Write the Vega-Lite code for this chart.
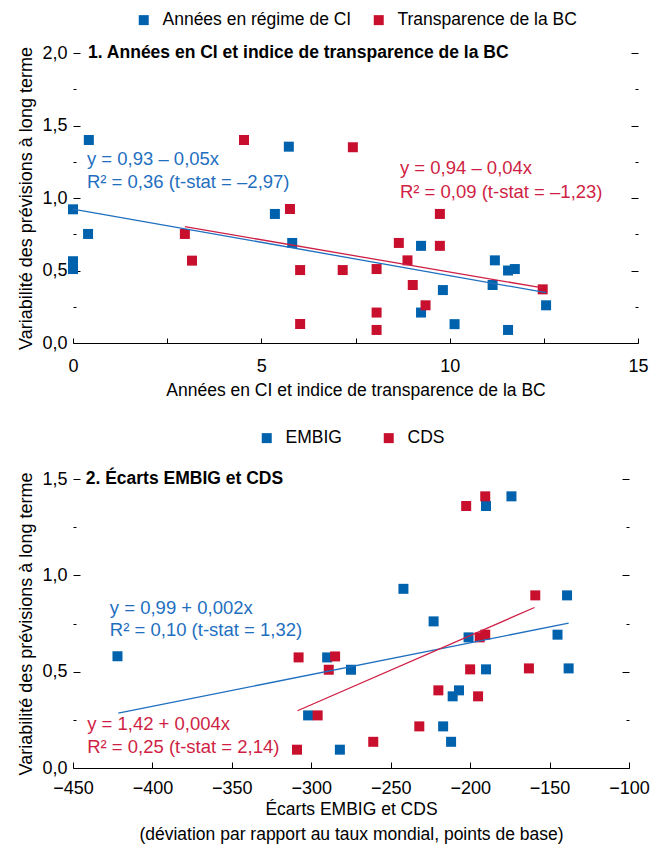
{
  "$schema": "https://vega.github.io/schema/vega-lite/v6.json",
  "padding": {"left": 17, "top": 11, "right": 8, "bottom": 1},
  "background": "white",
  "config": {
    "font": "Liberation Sans",
    "view": {"stroke": null},
    "axis": {"grid": false, "labelColor": "black", "titleColor": "black", "tickColor": "black", "domainColor": "black", "labelFontSize": 18, "titleFontSize": 17.5, "titleFontWeight": "normal", "labelFont": "Liberation Sans", "titleFont": "Liberation Sans"},
    "legend": {"layout": {"top": {"anchor": "middle"}}, "labelFontSize": 17.5, "labelLimit": 0, "labelColor": "black", "symbolType": "square", "symbolSize": 100, "symbolStrokeWidth": 0, "orient": "top", "direction": "horizontal", "title": null, "labelOffset": 10}
  },
  "datasets": {
    "p1": [
      {"x": 0, "y": 0.922, "serie": "Années en régime de CI"},
      {"x": 0, "y": 0.564, "serie": "Années en régime de CI"},
      {"x": 0, "y": 0.51, "serie": "Années en régime de CI"},
      {"x": 0.42, "y": 1.40, "serie": "Années en régime de CI"},
      {"x": 0.4, "y": 0.752, "serie": "Années en régime de CI"},
      {"x": 5.73, "y": 1.354, "serie": "Années en régime de CI"},
      {"x": 5.36, "y": 0.89, "serie": "Années en régime de CI"},
      {"x": 5.82, "y": 0.69, "serie": "Années en régime de CI"},
      {"x": 9.24, "y": 0.67, "serie": "Années en régime de CI"},
      {"x": 11.2, "y": 0.57, "serie": "Années en régime de CI"},
      {"x": 11.55, "y": 0.50, "serie": "Années en régime de CI"},
      {"x": 11.73, "y": 0.51, "serie": "Années en régime de CI"},
      {"x": 11.14, "y": 0.40, "serie": "Années en régime de CI"},
      {"x": 9.82, "y": 0.365, "serie": "Années en régime de CI"},
      {"x": 9.24, "y": 0.21, "serie": "Années en régime de CI"},
      {"x": 10.13, "y": 0.13, "serie": "Années en régime de CI"},
      {"x": 11.55, "y": 0.09, "serie": "Années en régime de CI"},
      {"x": 12.56, "y": 0.26, "serie": "Années en régime de CI"},
      {"x": 4.54, "y": 1.40, "serie": "Transparence de la BC"},
      {"x": 7.43, "y": 1.35, "serie": "Transparence de la BC"},
      {"x": 5.76, "y": 0.924, "serie": "Transparence de la BC"},
      {"x": 2.97, "y": 0.752, "serie": "Transparence de la BC"},
      {"x": 3.16, "y": 0.568, "serie": "Transparence de la BC"},
      {"x": 6.03, "y": 0.503, "serie": "Transparence de la BC"},
      {"x": 6.03, "y": 0.131, "serie": "Transparence de la BC"},
      {"x": 7.16, "y": 0.503, "serie": "Transparence de la BC"},
      {"x": 8.06, "y": 0.51, "serie": "Transparence de la BC"},
      {"x": 8.06, "y": 0.21, "serie": "Transparence de la BC"},
      {"x": 8.06, "y": 0.09, "serie": "Transparence de la BC"},
      {"x": 8.65, "y": 0.69, "serie": "Transparence de la BC"},
      {"x": 8.88, "y": 0.57, "serie": "Transparence de la BC"},
      {"x": 9.02, "y": 0.40, "serie": "Transparence de la BC"},
      {"x": 9.36, "y": 0.26, "serie": "Transparence de la BC"},
      {"x": 9.74, "y": 0.89, "serie": "Transparence de la BC"},
      {"x": 9.74, "y": 0.67, "serie": "Transparence de la BC"},
      {"x": 12.47, "y": 0.37, "serie": "Transparence de la BC"}
    ],
    "l1": [
      {"x": 0, "y": 0.924, "serie": "Années en régime de CI"},
      {"x": 12.56, "y": 0.347, "serie": "Années en régime de CI"},
      {"x": 2.97, "y": 0.802, "serie": "Transparence de la BC"},
      {"x": 12.47, "y": 0.38, "serie": "Transparence de la BC"}
    ],
    "a1": [
      {"x": 0.37, "y": 1.267, "serie": "Années en régime de CI", "texte": "y = 0,93 – 0,05x"},
      {"x": 0.37, "y": 1.112, "serie": "Années en régime de CI", "texte": "R² = 0,36 (t-stat = –2,97)"},
      {"x": 8.68, "y": 1.205, "serie": "Transparence de la BC", "texte": "y = 0,94 – 0,04x"},
      {"x": 8.68, "y": 1.043, "serie": "Transparence de la BC", "texte": "R² = 0,09 (t-stat = –1,23)"}
    ],
    "t1": [{"x": 0.4, "y": 2.0, "texte": "1. Années en CI et indice de transparence de la BC"}],
    "p2": [
      {"x": -422, "y": 0.58, "serie": "EMBIG"},
      {"x": -290, "y": 0.574, "serie": "EMBIG"},
      {"x": -275, "y": 0.51, "serie": "EMBIG"},
      {"x": -302, "y": 0.273, "serie": "EMBIG"},
      {"x": -282, "y": 0.095, "serie": "EMBIG"},
      {"x": -174, "y": 1.41, "serie": "EMBIG"},
      {"x": -190, "y": 1.36, "serie": "EMBIG"},
      {"x": -242, "y": 0.93, "serie": "EMBIG"},
      {"x": -139, "y": 0.896, "serie": "EMBIG"},
      {"x": -223, "y": 0.761, "serie": "EMBIG"},
      {"x": -201, "y": 0.678, "serie": "EMBIG"},
      {"x": -145, "y": 0.692, "serie": "EMBIG"},
      {"x": -190, "y": 0.512, "serie": "EMBIG"},
      {"x": -138, "y": 0.517, "serie": "EMBIG"},
      {"x": -207, "y": 0.403, "serie": "EMBIG"},
      {"x": -211, "y": 0.372, "serie": "EMBIG"},
      {"x": -217, "y": 0.216, "serie": "EMBIG"},
      {"x": -212, "y": 0.136, "serie": "EMBIG"},
      {"x": -308, "y": 0.574, "serie": "CDS"},
      {"x": -285, "y": 0.579, "serie": "CDS"},
      {"x": -289, "y": 0.51, "serie": "CDS"},
      {"x": -296, "y": 0.273, "serie": "CDS"},
      {"x": -309, "y": 0.095, "serie": "CDS"},
      {"x": -190.5, "y": 1.41, "serie": "CDS"},
      {"x": -202.5, "y": 1.36, "serie": "CDS"},
      {"x": -159, "y": 0.896, "serie": "CDS"},
      {"x": -194, "y": 0.678, "serie": "CDS"},
      {"x": -190.5, "y": 0.692, "serie": "CDS"},
      {"x": -200, "y": 0.512, "serie": "CDS"},
      {"x": -163, "y": 0.517, "serie": "CDS"},
      {"x": -220, "y": 0.403, "serie": "CDS"},
      {"x": -195, "y": 0.372, "serie": "CDS"},
      {"x": -232, "y": 0.216, "serie": "CDS"},
      {"x": -261, "y": 0.136, "serie": "CDS"}
    ],
    "l2": [
      {"x": -421.5, "y": 0.285, "serie": "EMBIG"},
      {"x": -138, "y": 0.752, "serie": "EMBIG"},
      {"x": -308.7, "y": 0.297, "serie": "CDS"},
      {"x": -159.5, "y": 0.833, "serie": "CDS"}
    ],
    "a2": [
      {"x": -426.8, "y": 0.83, "serie": "EMBIG", "texte": "y = 0,99 + 0,002x"},
      {"x": -426.8, "y": 0.714, "serie": "EMBIG", "texte": "R² = 0,10 (t-stat = 1,32)"},
      {"x": -441.1, "y": 0.23, "serie": "CDS", "texte": "y = 1,42 + 0,004x"},
      {"x": -441.1, "y": 0.109, "serie": "CDS", "texte": "R² = 0,25 (t-stat = 2,14)"}
    ],
    "t2": [{"x": -442, "y": 1.5, "texte": "2. Écarts EMBIG et CDS"}]
  },
  "resolve": {"scale": {"color": "independent", "stroke": "independent", "fill": "independent"}, "legend": {"color": "independent"}},
  "spacing": 30,
  "vconcat": [
    {
      "width": 565,
      "height": 290,
      "resolve": {"axis": {"y": "independent"}},
      "layer": [
        {
          "data": {"name": "p1"},
          "mark": {"type": "point", "shape": "square", "filled": true, "opacity": 1, "size": 100},
          "encoding": {
            "x": {"field": "x", "type": "quantitative", "scale": {"domain": [0, 15], "nice": false},
              "axis": {"orient": "bottom", "values": [0, 2.5, 5, 7.5, 10, 12.5, 15], "tickSize": -5, "labelExpr": "datum.value % 5 === 0 ? format(datum.value, 'd') : ''", "labelPadding": 19, "labelFlush": false, "titlePadding": 6, "title": "Années en CI et indice de transparence de la BC"}},
            "y": {"field": "y", "type": "quantitative", "scale": {"domain": [0, 2], "nice": false},
              "axis": {"orient": "left", "values": [0, 0.25, 0.5, 0.75, 1, 1.25, 1.5, 1.75, 2], "domain": false, "tickSize": {"condition": {"test": "datum.value % 0.5 === 0", "value": -7}, "value": -3}, "labelExpr": "datum.value % 0.5 === 0 ? replace(format(datum.value, '.1f'), '.', ',') : ''", "labelPadding": 13, "titlePadding": 6, "titleFontSize": 18, "title": "Variabilité des prévisions à long terme"}},
            "color": {"field": "serie", "type": "nominal", "scale": {"domain": ["Années en régime de CI", "Transparence de la BC"], "range": ["#0062ad", "#c8102e"]}, "legend": {"columnPadding": 18, "offset": 24}}
          }
        },
        {
          "data": {"name": "l1"},
          "mark": {"type": "line", "strokeWidth": 1.3},
          "encoding": {
            "x": {"field": "x", "type": "quantitative", "scale": {"domain": [0, 15], "nice": false}},
            "y": {"field": "y", "type": "quantitative", "scale": {"domain": [0, 2], "nice": false},
              "axis": {"orient": "right", "values": [0, 0.25, 0.5, 0.75, 1, 1.25, 1.5, 1.75, 2], "domain": false, "labels": false, "title": null, "tickSize": {"condition": {"test": "datum.value % 0.5 === 0", "value": -7}, "value": -3}}},
            "stroke": {"field": "serie", "type": "nominal", "scale": {"domain": ["Années en régime de CI", "Transparence de la BC"], "range": ["#1f6fbf", "#cf1f45"]}, "legend": null}
          }
        },
        {
          "data": {"name": "a1"},
          "mark": {"type": "text", "align": "left", "baseline": "middle", "fontSize": 18.5},
          "encoding": {
            "x": {"field": "x", "type": "quantitative", "scale": {"domain": [0, 15], "nice": false}},
            "y": {"field": "y", "type": "quantitative", "scale": {"domain": [0, 2], "nice": false}, "axis": null},
            "text": {"field": "texte"},
            "fill": {"field": "serie", "type": "nominal", "scale": {"domain": ["Années en régime de CI", "Transparence de la BC"], "range": ["#1f6fbf", "#cf1f45"]}, "legend": null}
          }
        },
        {
          "data": {"name": "t1"},
          "mark": {"type": "text", "align": "left", "baseline": "middle", "fontSize": 17.5, "fontWeight": "bold", "color": "black"},
          "encoding": {
            "x": {"field": "x", "type": "quantitative", "scale": {"domain": [0, 15], "nice": false}},
            "y": {"field": "y", "type": "quantitative", "scale": {"domain": [0, 2], "nice": false}, "axis": null},
            "text": {"field": "texte"}
          }
        }
      ]
    },
    {
      "width": 556,
      "height": 289,
      "resolve": {"axis": {"y": "independent"}},
      "layer": [
        {
          "data": {"name": "p2"},
          "mark": {"type": "point", "shape": "square", "filled": true, "opacity": 1, "size": 100},
          "encoding": {
            "x": {"field": "x", "type": "quantitative", "scale": {"domain": [-450, -100], "nice": false},
              "axis": {"orient": "bottom", "values": [-450, -425, -400, -375, -350, -325, -300, -275, -250, -225, -200, -175, -150, -125, -100], "tickSize": {"condition": {"test": "datum.value % 50 === 0", "value": -6}, "value": -3}, "labelExpr": "datum.value % 50 === 0 ? format(datum.value, 'd') : ''", "labelPadding": 17, "labelFlush": false, "titlePadding": 3, "titleLineHeight": 25, "title": ["Écarts EMBIG et CDS", "(déviation par rapport au taux mondial, points de base)"]}},
            "y": {"field": "y", "type": "quantitative", "scale": {"domain": [0, 1.5], "nice": false},
              "axis": {"orient": "left", "values": [0, 0.25, 0.5, 0.75, 1, 1.25, 1.5], "domain": false, "tickSize": {"condition": {"test": "datum.value % 0.5 === 0", "value": -7}, "value": -3}, "labelExpr": "datum.value % 0.5 === 0 ? replace(format(datum.value, '.1f'), '.', ',') : ''", "labelPadding": 13, "titlePadding": 6, "titleFontSize": 18, "title": "Variabilité des prévisions à long terme"}},
            "color": {"field": "serie", "type": "nominal", "scale": {"domain": ["EMBIG", "CDS"], "range": ["#0062ad", "#c8102e"]}, "legend": {"columnPadding": 38, "offset": 32}}
          }
        },
        {
          "data": {"name": "l2"},
          "mark": {"type": "line", "strokeWidth": 1.3},
          "encoding": {
            "x": {"field": "x", "type": "quantitative", "scale": {"domain": [-450, -100], "nice": false}},
            "y": {"field": "y", "type": "quantitative", "scale": {"domain": [0, 1.5], "nice": false},
              "axis": {"orient": "right", "values": [0, 0.25, 0.5, 0.75, 1, 1.25, 1.5], "domain": false, "labels": false, "title": null, "tickSize": {"condition": {"test": "datum.value % 0.5 === 0", "value": -7}, "value": -3}}},
            "stroke": {"field": "serie", "type": "nominal", "scale": {"domain": ["EMBIG", "CDS"], "range": ["#1f6fbf", "#cf1f45"]}, "legend": null}
          }
        },
        {
          "data": {"name": "a2"},
          "mark": {"type": "text", "align": "left", "baseline": "middle", "fontSize": 18.5},
          "encoding": {
            "x": {"field": "x", "type": "quantitative", "scale": {"domain": [-450, -100], "nice": false}},
            "y": {"field": "y", "type": "quantitative", "scale": {"domain": [0, 1.5], "nice": false}, "axis": null},
            "text": {"field": "texte"},
            "fill": {"field": "serie", "type": "nominal", "scale": {"domain": ["EMBIG", "CDS"], "range": ["#1f6fbf", "#cf1f45"]}, "legend": null}
          }
        },
        {
          "data": {"name": "t2"},
          "mark": {"type": "text", "align": "left", "baseline": "middle", "fontSize": 17.5, "fontWeight": "bold", "color": "black"},
          "encoding": {
            "x": {"field": "x", "type": "quantitative", "scale": {"domain": [-450, -100], "nice": false}},
            "y": {"field": "y", "type": "quantitative", "scale": {"domain": [0, 1.5], "nice": false}, "axis": null},
            "text": {"field": "texte"}
          }
        }
      ]
    }
  ]
}
